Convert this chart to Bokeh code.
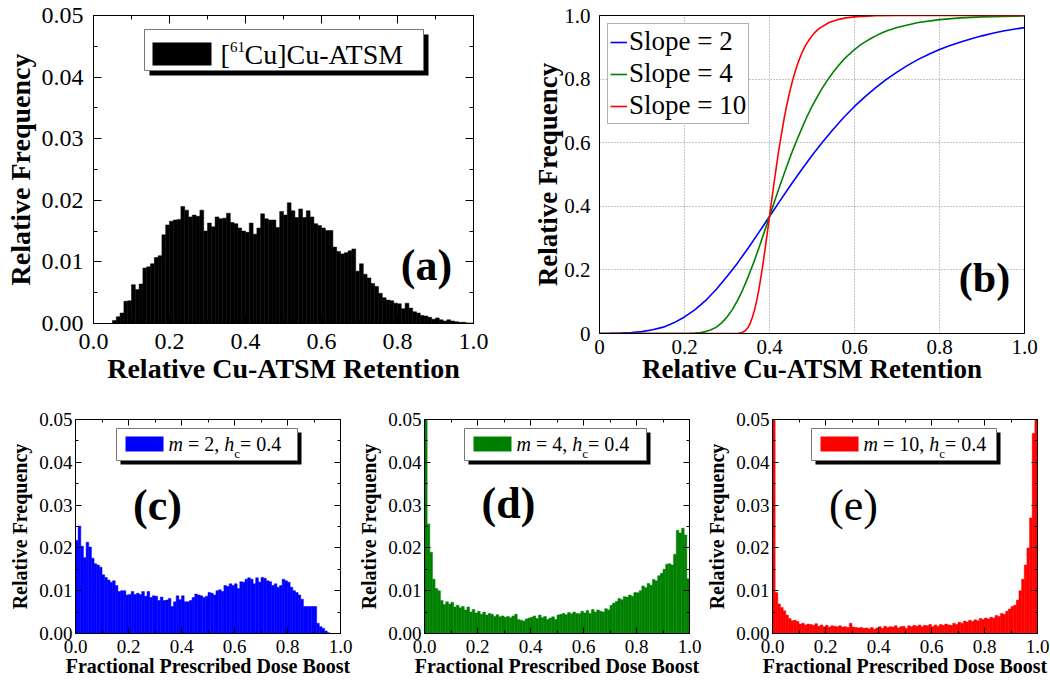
import numpy as np
from bokeh.plotting import figure
from bokeh.models import (Range1d, FixedTicker, LinearAxis, Label, BoxAnnotation,
                          Legend, LegendItem, CustomJSTickFormatter)
from bokeh.layouts import column, row
from bokeh.embed import file_html
from bokeh.resources import INLINE

SERIF = "Liberation Serif"

# ---------------- data ----------------
bin_edges = [round(i * 0.01, 2) for i in range(101)]

cu_atsm_freq = [0, 0, 0, 0, 0, .0005, .0011, .0017, .0036, .0037,
                .0063, .0055, .0064, .0090, .0092, .0097, .0107, .0110, .0144, .0160,
                .0166, .0168, .0169, .0190, .0184, .0173, .0176, .0174, .0184, .0150,
                .0163, .0157, .0173, .0170, .0171, .0179, .0164, .0162, .0155, .0150,
                .0148, .0163, .0145, .0155, .0178, .0170, .0168, .0168, .0156, .0182,
                .0176, .0196, .0183, .0172, .0186, .0172, .0183, .0173, .0162, .0159,
                .0155, .0151, .0151, .0124, .0117, .0113, .0115, .0118, .0121, .0085,
                .0097, .0080, .0074, .0065, .0060, .0049, .0042, .0038, .0037, .0033,
                .0032, .0024, .0033, .0025, .0019, .0017, .0013, .0012, .0010, .0007,
                .0009, .0006, .0004, .0006, .0004, .0003, .0002, .0002, .0001, .0001]

boost_m2 = [.0217, .0251, .0204, .0177, .0213, .0202, .0176, .0163, .0160, .0155,
            .0137, .0131, .0125, .0120, .0123, .0112, .0098, .0100, .0100, .0090,
            .0091, .0098, .0091, .0094, .0091, .0098, .0087, .0098, .0084, .0088,
            .0087, .0077, .0085, .0077, .0078, .0082, .0063, .0074, .0088, .0079,
            .0088, .0074, .0074, .0077, .0084, .0092, .0090, .0088, .0084, .0087,
            .0096, .0094, .0090, .0100, .0102, .0098, .0112, .0110, .0116, .0112,
            .0116, .0105, .0121, .0120, .0127, .0130, .0127, .0116, .0130, .0120,
            .0131, .0129, .0123, .0121, .0112, .0116, .0108, .0112, .0127, .0123,
            .0120, .0108, .0100, .0096, .0090, .0080, .0063, .0063, .0063, .0063,
            .0063, .0024, .0016, .0012, .0006, .0002, 0, 0, 0, 0]

boost_m4 = [.0600, .0256, .0190, .0127, .0105, .0100, .0077, .0068, .0074, .0069,
            .0073, .0062, .0066, .0060, .0063, .0055, .0062, .0050, .0056, .0048,
            .0052, .0045, .0050, .0043, .0047, .0045, .0040, .0044, .0039, .0041,
            .0038, .0040, .0037, .0041, .0045, .0033, .0031, .0029, .0034, .0036,
            .0038, .0041, .0035, .0043, .0037, .0040, .0033, .0036, .0039, .0033,
            .0043, .0045, .0047, .0044, .0049, .0046, .0050, .0047, .0046, .0052,
            .0048, .0054, .0047, .0056, .0050, .0055, .0052, .0050, .0058, .0055,
            .0066, .0071, .0075, .0082, .0079, .0086, .0085, .0090, .0087, .0096,
            .0095, .0100, .0111, .0107, .0117, .0113, .0126, .0123, .0135, .0141,
            .0150, .0162, .0163, .0160, .0185, .0241, .0235, .0246, .0230, .0128]

boost_m10 = [.0600, .0096, .0069, .0061, .0053, .0043, .0035, .0030, .0031, .0028,
             .0022, .0024, .0020, .0022, .0021, .0019, .0023, .0017, .0020, .0016,
             .0019, .0015, .0018, .0017, .0016, .0018, .0015, .0016, .0014, .0024,
             .0015, .0014, .0013, .0014, .0012, .0013, .0011, .0014, .0010, .0013,
             .0016, .0012, .0017, .0014, .0016, .0015, .0018, .0013, .0016, .0017,
             .0012, .0018, .0016, .0019, .0017, .0020, .0016, .0019, .0018, .0021,
             .0016, .0020, .0017, .0021, .0019, .0022, .0020, .0019, .0024, .0021,
             .0026, .0024, .0029, .0027, .0031, .0028, .0032, .0030, .0035, .0033,
             .0036, .0034, .0038, .0036, .0042, .0040, .0047, .0045, .0052, .0057,
             .0063, .0066, .0078, .0100, .0127, .0160, .0200, .0270, .0467, .0600]

slope2_x = [0.0, 0.025, 0.05, 0.075, 0.1, 0.125, 0.15, 0.175, 0.2, 0.225, 0.25, 0.275, 0.3,
            0.325, 0.35, 0.375, 0.4, 0.425, 0.45, 0.475, 0.5, 0.525, 0.55, 0.575, 0.6, 0.625,
            0.65, 0.675, 0.7, 0.725, 0.75, 0.775, 0.8, 0.825, 0.85, 0.875, 0.9, 0.925, 0.95,
            0.975, 1.0]
slope2_y = [0.0002, 0.0005, 0.0012, 0.0029, 0.006, 0.0116, 0.020, 0.0335, 0.052, 0.075,
            0.104, 0.139, 0.179, 0.222, 0.269, 0.318, 0.368, 0.418, 0.467, 0.514, 0.560,
            0.602, 0.642, 0.680, 0.714, 0.745, 0.773, 0.799, 0.822, 0.843, 0.862, 0.878,
            0.893, 0.906, 0.917, 0.927, 0.936, 0.944, 0.951, 0.957, 0.962]

slope4_x = [0.0, 0.1, 0.2, 0.2125, 0.225, 0.2375, 0.25, 0.2625, 0.275, 0.2875, 0.3, 0.3125,
            0.325, 0.3375, 0.35, 0.3625, 0.375, 0.3875, 0.4, 0.4125, 0.425, 0.4375, 0.45,
            0.4625, 0.475, 0.4875, 0.5, 0.5125, 0.525, 0.5375, 0.55, 0.5625, 0.575, 0.5875,
            0.6, 0.6125, 0.625, 0.6375, 0.65, 0.6625, 0.675, 0.6875, 0.7, 0.75, 0.8, 0.85,
            0.9, 0.95, 1.0]
slope4_y = [0, 0, 0.0002, 0.0005, 0.0012, 0.0029, 0.006, 0.0116, 0.020, 0.0335, 0.052, 0.075,
            0.104, 0.139, 0.179, 0.222, 0.269, 0.318, 0.368, 0.418, 0.467, 0.514, 0.560,
            0.602, 0.642, 0.680, 0.714, 0.745, 0.773, 0.799, 0.822, 0.843, 0.862, 0.878,
            0.893, 0.906, 0.917, 0.927, 0.936, 0.944, 0.951, 0.957, 0.962, 0.978, 0.987,
            0.9925, 0.9956, 0.9974, 0.9985]

slope10_x = [0.0, 0.2, 0.3, 0.32, 0.325, 0.33, 0.335, 0.34, 0.345, 0.35, 0.355, 0.36, 0.365,
             0.37, 0.375, 0.38, 0.385, 0.39, 0.395, 0.4, 0.405, 0.41, 0.415, 0.42, 0.425,
             0.43, 0.435, 0.44, 0.445, 0.45, 0.455, 0.46, 0.465, 0.47, 0.475, 0.48, 0.485,
             0.49, 0.495, 0.5, 0.505, 0.51, 0.515, 0.52, 0.54, 0.56, 0.58, 0.6, 0.62, 0.65,
             0.7, 0.8, 0.9, 1.0]
slope10_y = [0, 0, 0, 0.0002, 0.0005, 0.0012, 0.0029, 0.006, 0.0116, 0.020, 0.0335, 0.052,
             0.075, 0.104, 0.139, 0.179, 0.222, 0.269, 0.318, 0.368, 0.418, 0.467, 0.514,
             0.560, 0.602, 0.642, 0.680, 0.714, 0.745, 0.773, 0.799, 0.822, 0.843, 0.862,
             0.878, 0.893, 0.906, 0.917, 0.927, 0.936, 0.944, 0.951, 0.957, 0.962, 0.978,
             0.987, 0.9925, 0.9956, 0.9974, 0.999, 1.0, 1.0, 1.0, 1.0]

x_ticks = [0.0, 0.2, 0.4, 0.6, 0.8, 1.0]
x_minor = [0.1, 0.3, 0.5, 0.7, 0.9]
freq_ticks = [0.0, 0.01, 0.02, 0.03, 0.04, 0.05]
freq_minor = [0.005, 0.015, 0.025, 0.035, 0.045]
b_ticks = [0.0, 0.2, 0.4, 0.6, 0.8, 1.0]

# ---------------- helpers ----------------
def make_fig(fw, fh, bl, br, bt, bb, ymax):
    p = figure(frame_width=fw, frame_height=fh, x_range=Range1d(0, 1), y_range=Range1d(0, ymax),
               output_backend="svg", toolbar_location=None,
               min_border_left=bl, min_border_right=br, min_border_top=bt, min_border_bottom=bb)
    p.background_fill_color = "white"
    p.border_fill_color = "white"
    p.outline_line_color = "black"
    p.outline_line_alpha = 1
    p.grid.visible = False
    return p


def style_axis(ax, ticks, minor, code, label, label_size, tick_size, standoff, lstandoff, tin, tmin):
    ax.ticker = FixedTicker(ticks=ticks, minor_ticks=minor)
    ax.formatter = CustomJSTickFormatter(code=code)
    ax.axis_label = label
    ax.axis_label_text_font = SERIF
    ax.axis_label_text_font_style = "bold"
    ax.axis_label_text_font_size = f"{label_size}px"
    ax.axis_label_text_color = "black"
    ax.major_label_text_font = SERIF
    ax.major_label_text_font_size = f"{tick_size}px"
    ax.major_label_text_color = "black"
    ax.major_label_standoff = standoff
    ax.axis_label_standoff = lstandoff
    ax.major_tick_in = tin
    ax.major_tick_out = 0
    ax.minor_tick_in = tmin
    ax.minor_tick_out = 0
    ax.axis_line_color = "black"
    ax.major_tick_line_color = "black" if tin else None
    ax.minor_tick_line_color = "black" if tmin else None


def mirror(p, xt, xm, yt, ym, tin, tmin):
    for loc, t, m in (("right", yt, ym), ("above", xt, xm)):
        ax = LinearAxis(ticker=FixedTicker(ticks=t, minor_ticks=m),
                        formatter=CustomJSTickFormatter(code="return '';"),
                        major_label_text_font_size="1px", major_label_standoff=0,
                        major_tick_in=tin, major_tick_out=0, minor_tick_in=tmin,
                        minor_tick_out=0, axis_line_color="black")
        p.add_layout(ax, loc)


def fxy(F, px, py):
    return ((px - F["left"]) / F["w"] * F["xmax"], (F["bottom"] - py) / F["h"] * F["ymax"])


def add_label(p, F, px, py, text, size, style="normal", align="left", baseline="middle"):
    x, y = fxy(F, px, py)
    p.add_layout(Label(x=x, y=y, text=text, text_font=SERIF, text_font_size=f"{size}px",
                       text_font_style=style, text_align=align, text_baseline=baseline,
                       text_color="black"))


def add_box(p, F, x0, y0, x1, y1, fill, line=None):
    l, t = fxy(F, x0, y0)
    r, b = fxy(F, x1, y1)
    p.add_layout(BoxAnnotation(left=l, right=r, top=t, bottom=b, fill_color=fill, fill_alpha=1,
                               line_color=line, line_alpha=1 if line else 0, line_width=1))


FMT1 = "return tick.toFixed(1);"
FMT2 = "return tick.toFixed(2);"
FMTB = "return Math.abs(tick) < 1e-9 ? '0' : tick.toFixed(1);"

# ---------------- panel (a) ----------------
FA = dict(left=93, bottom=323, w=380, h=308, xmax=1.0, ymax=0.05)
pa = make_fig(380, 308, 93, 57, 15, 77, 0.05)
pa.quad(left=bin_edges[:-1], right=bin_edges[1:], bottom=0, top=cu_atsm_freq,
        fill_color="black", line_color="black", line_width=0.5)
style_axis(pa.xaxis[0], x_ticks, x_minor, FMT1, "Relative Cu-ATSM Retention", 28, 24, 10, 1, 8, 4)
style_axis(pa.yaxis[0], freq_ticks, freq_minor, FMT2, "Relative Frequency", 28, 24, 10, 3, 8, 4)
mirror(pa, x_ticks, x_minor, freq_ticks, freq_minor, 8, 4)
add_box(pa, FA, 149, 34, 428, 75, "black")
add_box(pa, FA, 144, 29, 423, 70, "white", "#777777")
add_box(pa, FA, 152, 42, 211, 65, "black")
add_label(pa, FA, 220, 54, "[", 28)
add_label(pa, FA, 229.5, 46, "61", 15)
add_label(pa, FA, 244, 54, "Cu]Cu-ATSM", 28)
add_label(pa, FA, 426, 265, "(a)", 44, "bold", "center")

# ---------------- panel (b) ----------------
FB = dict(left=597, bottom=333, w=425, h=318, xmax=1.0, ymax=1.0)
pb = make_fig(425, 318, 67, 20, 15, 67, 1.0)
style_axis(pb.xaxis[0], b_ticks, [], FMTB, "Relative Cu-ATSM Retention", 27, 21, 6, -3, 0, 0)
style_axis(pb.yaxis[0], b_ticks, [], FMTB, "Relative Frequency", 27, 21, 9, -2, 0, 0)
pb.xgrid.visible = True
pb.ygrid.visible = True
for g in (pb.xgrid[0], pb.ygrid[0]):
    g.ticker = FixedTicker(ticks=b_ticks)
    g.grid_line_color = "#8a8a8a"
    g.grid_line_dash = "1 2"
    g.grid_line_width = 1
r2 = pb.line(slope2_x, slope2_y, line_color="#0000ff", line_width=1.6)
r4 = pb.line(slope4_x, slope4_y, line_color="#008000", line_width=1.6)
r10 = pb.line(slope10_x, slope10_y, line_color="#ff0000", line_width=1.6)
leg = Legend(items=[LegendItem(label="Slope = 2", renderers=[r2]),
                    LegendItem(label="Slope = 4", renderers=[r4]),
                    LegendItem(label="Slope = 10", renderers=[r10])],
             location="top_left", margin=8, padding=2, spacing=1, glyph_width=17,
             glyph_height=30, label_height=30, label_standoff=2,
             label_text_font=SERIF, label_text_font_size="27px", label_text_color="black",
             border_line_color="#666666", border_line_width=1, background_fill_alpha=1.0)
pb.add_layout(leg)
add_label(pb, FB, 982, 277, "(b)", 42, "bold", "center")

# ---------------- panels (c), (d), (e) ----------------
def bottom_panel(bl, br, frame_left, values, color, L, W, mval, letter, letter_style, letter_xy):
    F = dict(left=frame_left, bottom=633, w=265, h=214, xmax=1.0, ymax=0.05)
    p = make_fig(265, 214, bl, br, 19, 55, 0.05)
    p.quad(left=bin_edges[:-1], right=bin_edges[1:], bottom=0, top=values,
           fill_color=color, line_color=color, line_width=0.5)
    style_axis(p.xaxis[0], x_ticks, x_minor, FMT1, "Fractional Prescribed Dose Boost", 20, 19, 6, -1, 6, 3)
    style_axis(p.yaxis[0], freq_ticks, freq_minor, FMT2, "Relative Frequency", 20, 19, 3, 5, 6, 3)
    mirror(p, x_ticks, x_minor, freq_ticks, freq_minor, 6, 3)
    add_box(p, F, L + 4, 432, L + W + 4, 464, "black")
    add_box(p, F, L, 428, L + W, 460, "white", "#777777")
    add_box(p, F, L + 9, 436, L + 47, 451, color)
    extra = 10 if len(mval) > 1 else 0
    add_label(p, F, L + 52, 443.5, "m", 20, "italic")
    add_label(p, F, L + 71.4, 443.5, f"= {mval},", 20)
    add_label(p, F, L + 107.7 + extra, 443.5, "h", 20, "italic")
    add_label(p, F, L + 117.7 + extra, 452.5, "c", 13)
    add_label(p, F, L + 123.5 + extra, 443.5, "= 0.4", 20)
    add_label(p, F, letter_xy[0], letter_xy[1], letter, 44, letter_style, "center")
    return p

pc = bottom_panel(75, 15, 75, boost_m2, "#0000ff", 116, 181, "2", "(c)", "bold", (157, 505))
pd = bottom_panel(66, 14, 421, boost_m4, "#008000", 461, 182, "4", "(d)", "bold", (505, 503))
pe = bottom_panel(68, 12, 768, boost_m10, "#ff0000", 807, 185, "10", "(e)", "normal", (849, 505))

layout = column(row(pa, pb), row(pc, pd, pe))
open("out.html", "w").write(file_html(layout, INLINE))
